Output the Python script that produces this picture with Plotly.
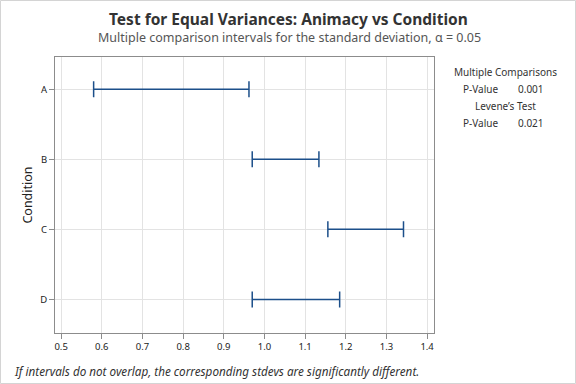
#!/usr/bin/env python3
"""
Test for equal variances chart
"""

import plotly.graph_objs as go

conditions = ["A", "B", "C", "D"]
lower = [0.580, 0.970, 1.156, 0.970]
upper = [0.962, 1.134, 1.342, 1.185]
x_ticks = [0.5, 0.6, 0.7, 0.8, 0.9, 1.0, 1.1, 1.2, 1.3, 1.4]
panel_heads = ["Multiple Comparisons", "Levene\u2019s Test"]
panel_pvals = ["0.001", "0.021"]

FONT = "Noto Sans"
BLUE = "#1c4f8a"
L, R, T, B = 55, 142, 57, 51


def main():

    mid = [(lo + hi) / 2 for lo, hi in zip(lower, upper)]
    plus = [hi - m for hi, m in zip(upper, mid)]
    minus = [m - lo for lo, m in zip(lower, mid)]

    trace = go.Scatter(
        x=mid, y=conditions, mode="markers",
        marker=dict(size=1, color="rgba(0,0,0,0)"),
        error_x=dict(type="data", symmetric=False, array=plus,
                     arrayminus=minus, color=BLUE, thickness=1.5, width=8),
        showlegend=False, hoverinfo="skip")

    layout = go.Layout(
        width=576, height=384,
        margin=dict(l=L, r=R, t=T, b=B),
        paper_bgcolor="white", plot_bgcolor="white",
        font=dict(family=FONT, color="#333333"),
        xaxis=dict(range=[0.485, 1.417], tickvals=x_ticks,
                   tickformat=".1f", showgrid=True, gridcolor="#e3e3e3",
                   zeroline=False, showline=True, mirror=True,
                   linecolor="#8c8c8c", linewidth=1, ticks="outside",
                   ticklen=5, tickcolor="#8c8c8c",
                   tickfont=dict(size=9.5, color="#222222")),
        yaxis=dict(type="category", categoryarray=conditions,
                   range=[3.48, -0.46], showgrid=True, gridcolor="#e3e3e3",
                   zeroline=False, showline=True, mirror=True,
                   linecolor="#8c8c8c", linewidth=1, ticks="outside",
                   ticklen=5, tickcolor="#8c8c8c",
                   tickfont=dict(size=9.5, color="#222222"),
                   title=dict(text="Condition", standoff=4,
                              font=dict(size=12.5, color="#222222"))),
    )
    fig = go.Figure(data=[trace], layout=layout)

    pw = 576 - L - R
    ph = 384 - T - B

    def px(x, y, text, size, color="#333333", anchor="center"):
        fig.add_annotation(text=text, xref="paper", yref="paper",
                           x=(x - L) / pw, y=1 - (y - T) / ph,
                           xanchor=anchor, yanchor="middle", showarrow=False,
                           font=dict(size=size, color=color))

    # titles
    px(288, 19, "<b>Test for Equal Variances: Animacy vs Condition</b>", 15.5)
    px(289, 38, "Multiple comparison intervals for the standard deviation, \u03b1 = 0.05",
       12.5, "#555555")
    px(12, 371, "<i>If intervals do not overlap, the corresponding stdevs are significantly different.</i>",
       11.7, anchor="left")

    # side panel
    for i, (head, pv) in enumerate(zip(panel_heads, panel_pvals)):
        y0 = 72 + 34 * i
        px(505, y0, head, 10)
        px(480, y0 + 17, "P-Value", 10)
        px(531, y0 + 17, pv, 10)

    fig.add_shape(type="rect", xref="paper", yref="paper",
                  x0=(0.5 - L) / pw, x1=(575.5 - L) / pw,
                  y0=1 - (383.5 - T) / ph, y1=1 - (0.5 - T) / ph,
                  line=dict(color="#d4d4d4", width=1))

    fig.write_html("out.html", config={"displayModeBar": False},
                   post_script="document.body.style.margin='0';")


if __name__ == "__main__":

    main()
